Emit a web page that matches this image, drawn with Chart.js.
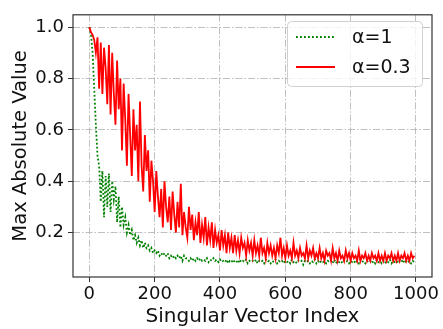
<!DOCTYPE html>
<html>
<head>
    <title>Max Absolute Value vs. Singular Vector Index</title>
    <script src="https://cdn.jsdelivr.net/npm/chart.js"></script>
    <style>
        body { margin: 0; background: #fff; }
        #wrap { width: 443px; height: 329px; }
    </style>
</head>
<body>
    <div id="wrap"><canvas id="myChart" width="443" height="329"></canvas></div>
    <script>
        const step = 5;

        // alpha = 0.3 (red, solid)
        const alpha03 = [
            1.00, 0.98, 0.97, 0.95, 0.90, 0.96, 0.76, 0.94, 0.74, 0.92, 0.84, 0.70, 0.93, 0.66, 0.90, 0.74, 0.62, 0.87, 0.68, 0.80,
            0.52, 0.78, 0.64, 0.46, 0.74, 0.58, 0.42, 0.68, 0.52, 0.62, 0.40, 0.71, 0.46, 0.36, 0.58, 0.44, 0.52, 0.32, 0.48, 0.40,
            0.28, 0.44, 0.34, 0.26, 0.37, 0.22, 0.40, 0.30, 0.24, 0.34, 0.21, 0.36, 0.27, 0.20, 0.32, 0.22, 0.39, 0.19, 0.28, 0.22,
            0.18, 0.30, 0.21, 0.27, 0.17, 0.24, 0.19, 0.28, 0.16, 0.23, 0.18, 0.26, 0.15, 0.22, 0.17, 0.24, 0.14, 0.21, 0.16, 0.19,
            0.13, 0.21, 0.15, 0.19, 0.12, 0.20, 0.14, 0.18, 0.12, 0.19, 0.13, 0.17, 0.12, 0.18, 0.14, 0.16, 0.11, 0.17, 0.13, 0.16,
            0.11, 0.17, 0.12, 0.15, 0.11, 0.18, 0.12, 0.14, 0.10, 0.16, 0.12, 0.15, 0.11, 0.14, 0.10, 0.15, 0.12, 0.18, 0.11, 0.14,
            0.10, 0.15, 0.11, 0.13, 0.10, 0.16, 0.11, 0.13, 0.10, 0.14, 0.11, 0.12, 0.10, 0.15, 0.10, 0.13, 0.11, 0.14, 0.10, 0.12,
            0.10, 0.14, 0.10, 0.12, 0.09, 0.13, 0.11, 0.12, 0.09, 0.14, 0.10, 0.12, 0.09, 0.13, 0.10, 0.11, 0.09, 0.13, 0.10, 0.12,
            0.09, 0.12, 0.10, 0.11, 0.09, 0.13, 0.09, 0.11, 0.10, 0.12, 0.09, 0.11, 0.09, 0.12, 0.10, 0.11, 0.09, 0.12, 0.09, 0.11,
            0.09, 0.12, 0.09, 0.11, 0.10, 0.12, 0.09, 0.11, 0.09, 0.12, 0.09, 0.11, 0.10, 0.12, 0.09, 0.11, 0.09, 0.12, 0.10, 0.11
        ];

        // alpha = 1 (green, dotted)
        const alpha1 = [
            1.00, 0.97, 0.90, 0.76, 0.62, 0.50, 0.46, 0.32, 0.44, 0.26, 0.42, 0.30, 0.43, 0.28, 0.40, 0.33, 0.38, 0.24, 0.34, 0.22,
            0.30, 0.23, 0.26, 0.20, 0.23, 0.19, 0.21, 0.17, 0.19, 0.16, 0.18, 0.15, 0.17, 0.14, 0.16, 0.14, 0.15, 0.13, 0.14, 0.12,
            0.13, 0.12, 0.13, 0.11, 0.12, 0.11, 0.12, 0.11, 0.12, 0.10, 0.11, 0.10, 0.11, 0.10, 0.11, 0.10, 0.11, 0.09, 0.11, 0.10,
            0.100, 0.090, 0.100, 0.090, 0.100, 0.090, 0.100, 0.090, 0.100, 0.090, 0.095, 0.090, 0.100, 0.085, 0.095, 0.090, 0.100, 0.090, 0.095, 0.085,
            0.095, 0.085, 0.090, 0.085, 0.095, 0.080, 0.090, 0.085, 0.095, 0.085, 0.090, 0.080, 0.095, 0.085, 0.090, 0.085, 0.095, 0.080, 0.090, 0.085,
            0.090, 0.085, 0.095, 0.080, 0.090, 0.085, 0.090, 0.080, 0.095, 0.085, 0.090, 0.080, 0.090, 0.085, 0.095, 0.080, 0.090, 0.085, 0.090, 0.080,
            0.090, 0.085, 0.090, 0.080, 0.095, 0.085, 0.090, 0.080, 0.090, 0.085, 0.090, 0.075, 0.090, 0.085, 0.090, 0.080, 0.090, 0.085, 0.095, 0.080,
            0.090, 0.080, 0.090, 0.085, 0.090, 0.080, 0.090, 0.085, 0.090, 0.080, 0.095, 0.080, 0.090, 0.085, 0.090, 0.080, 0.090, 0.085, 0.090, 0.080,
            0.090, 0.085, 0.090, 0.080, 0.090, 0.080, 0.095, 0.085, 0.090, 0.080, 0.090, 0.085, 0.090, 0.080, 0.090, 0.080, 0.095, 0.085, 0.090, 0.080,
            0.090, 0.080, 0.090, 0.085, 0.095, 0.080, 0.090, 0.085, 0.090, 0.080, 0.090, 0.085, 0.095, 0.080, 0.090, 0.085, 0.090, 0.080, 0.090, 0.085
        ];

        const xTicks = [0, 200, 400, 600, 800, 1000];
        const yTicks = [0.2, 0.4, 0.6, 0.8, 1.0];

        const toPoints = vals => vals.map((v, k) => ({ x: k * step, y: v }));

        const font = 'DejaVu Sans';
        const gridColor = 'rgba(176,176,176,0.8)';
        const gridDash = [7, 2, 1.5, 2];

        // matplotlib-style frame on all four sides
        const framePlugin = {
            id: 'frame',
            afterDraw(chart) {
                const { ctx, chartArea: a } = chart;
                ctx.save();
                ctx.strokeStyle = '#333';
                ctx.lineWidth = 1.2;
                ctx.strokeRect(a.left, a.top, a.right - a.left, a.bottom - a.top);
                ctx.restore();
            }
        };

        // legend box inside the plot, upper right
        const legendPlugin = {
            id: 'innerLegend',
            afterDraw(chart) {
                const ctx = chart.ctx;
                const x = 287, y = 21, w = 135, h = 65, r = 4;
                ctx.save();
                ctx.fillStyle = 'rgba(255,255,255,0.8)';
                ctx.strokeStyle = '#d0d0d0';
                ctx.lineWidth = 1;
                ctx.beginPath();
                ctx.roundRect(x + 0.5, y + 0.5, w, h, r);
                ctx.fill();
                ctx.stroke();
                const rows = [chart.data.datasets[0], chart.data.datasets[1]];
                rows.forEach((ds, i) => {
                    const ly = 37 + i * 30;
                    ctx.strokeStyle = ds.borderColor;
                    ctx.lineWidth = ds.borderWidth;
                    ctx.setLineDash(ds.borderDash || []);
                    ctx.beginPath();
                    ctx.moveTo(296, ly);
                    ctx.lineTo(335, ly);
                    ctx.stroke();
                    ctx.setLineDash([]);
                    ctx.fillStyle = '#111';
                    ctx.font = `19px "${font}"`;
                    ctx.textBaseline = 'middle';
                    ctx.fillText(ds.label, 352, ly + 1);
                });
                ctx.restore();
            }
        };

        const ctx = document.getElementById('myChart').getContext('2d');
        new Chart(ctx, {
            type: 'line',
            data: {
                datasets: [
                    {
                        label: 'α=1',
                        data: toPoints(alpha1),
                        borderColor: 'green',
                        borderWidth: 1.8,
                        borderDash: [1.8, 2.2],
                        pointRadius: 0,
                        tension: 0,
                        order: 2
                    },
                    {
                        label: 'α=0.3',
                        data: toPoints(alpha03),
                        borderColor: 'red',
                        borderWidth: 1.8,
                        pointRadius: 0,
                        tension: 0,
                        order: 1
                    }
                ]
            },
            options: {
                responsive: false,
                animation: false,
                layout: { padding: { top: 7, right: 11, left: 0, bottom: 0 } },
                plugins: {
                    legend: { display: false },
                    tooltip: { enabled: false }
                },
                scales: {
                    x: {
                        type: 'linear',
                        min: -50,
                        max: 1049,
                        afterBuildTicks: s => { s.ticks = xTicks.map(v => ({ value: v })); },
                        afterFit: s => { s.height = 52; },
                        grid: {
                            color: gridColor,
                            tickColor: '#333',
                            tickLength: 5,
                            tickBorderDash: []
                        },
                        border: { display: false, dash: gridDash },
                        ticks: {
                            color: '#111',
                            font: { family: font, size: 18 },
                            padding: 2,
                            maxRotation: 0,
                            callback: v => String(v)
                        },
                        title: {
                            display: true,
                            text: 'Singular Vector Index',
                            color: '#111',
                            font: { family: font, size: 20 },
                            padding: { top: 0, bottom: 0 }
                        }
                    },
                    y: {
                        min: 0.027,
                        max: 1.048,
                        afterBuildTicks: s => { s.ticks = yTicks.map(v => ({ value: v })); },
                        afterFit: s => { s.width = 73; },
                        grid: {
                            color: gridColor,
                            tickColor: '#333',
                            tickLength: 5,
                            tickBorderDash: []
                        },
                        border: { display: false, dash: gridDash },
                        ticks: {
                            color: '#111',
                            font: { family: font, size: 18 },
                            padding: 4,
                            callback: v => v.toFixed(1)
                        },
                        title: {
                            display: true,
                            text: 'Max Absolute Value',
                            color: '#111',
                            font: { family: font, size: 19.5 },
                            padding: { top: 9, bottom: 0 }
                        }
                    }
                }
            },
            plugins: [framePlugin, legendPlugin]
        });
    </script>
</body>
</html>
